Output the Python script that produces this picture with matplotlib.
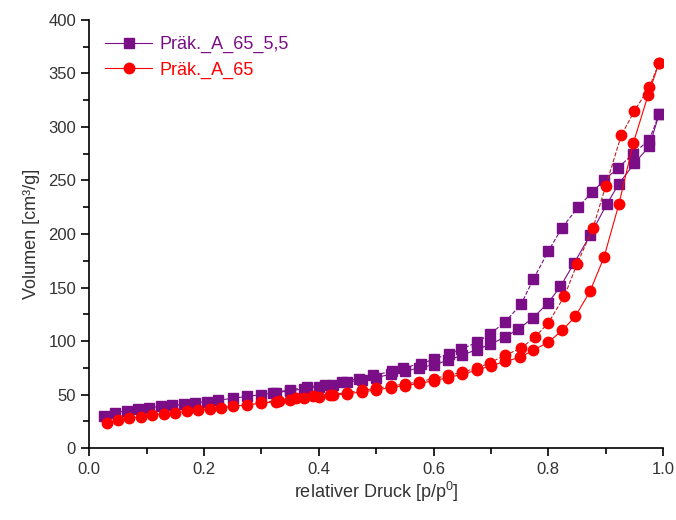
import numpy as np
import matplotlib
matplotlib.use("Agg")
import matplotlib.pyplot as plt
from matplotlib.ticker import MultipleLocator

plt.rcParams['font.family'] = ['Liberation Sans', 'DejaVu Sans']

# Präk._A_65_5,5 (lila) - Adsorption
p_lila_ads = [0.025, 0.045, 0.065, 0.085, 0.105, 0.125, 0.145, 0.165, 0.185, 0.205,
              0.225, 0.25, 0.275, 0.30, 0.325, 0.35, 0.375, 0.40, 0.425, 0.45,
              0.475, 0.50, 0.525, 0.55, 0.575, 0.60, 0.625, 0.65, 0.675, 0.699,
              0.725, 0.747, 0.774, 0.80, 0.821, 0.845, 0.873, 0.902, 0.923, 0.95,
              0.976, 0.993]
v_lila_ads = [30, 33, 35, 36.5, 38, 39, 40, 41, 42.5, 43.5,
              45, 46.5, 48.5, 50, 52, 53.5, 55.5, 57.5, 59.5, 61.5,
              64, 66, 69, 72, 75, 78, 82, 87, 92, 97,
              104, 111, 122, 136, 151, 173, 199, 228, 247, 266,
              282, 312]
# Desorption
p_lila_des = [0.993, 0.976, 0.948, 0.922, 0.897, 0.876, 0.852, 0.824, 0.80, 0.774,
              0.753, 0.725, 0.699, 0.676, 0.648, 0.626, 0.60, 0.578, 0.547, 0.528,
              0.495, 0.47, 0.44, 0.41, 0.38, 0.35, 0.32]
v_lila_des = [312, 288, 275, 262, 250, 239, 225, 206, 184, 158,
              135, 118, 107, 99, 92.5, 88, 83, 79, 75, 72,
              68, 65, 62, 59.5, 57, 54.5, 52]

# Präk._A_65 (rot) - Adsorption
p_rot_ads = [0.031, 0.05, 0.07, 0.09, 0.11, 0.13, 0.15, 0.17, 0.19, 0.21,
             0.23, 0.25, 0.275, 0.30, 0.325, 0.35, 0.375, 0.40, 0.425, 0.45,
             0.475, 0.50, 0.525, 0.55, 0.575, 0.60, 0.625, 0.65, 0.676, 0.70,
             0.725, 0.751, 0.774, 0.80, 0.824, 0.847, 0.873, 0.897, 0.923, 0.948,
             0.974, 0.993]
v_rot_ads = [24, 26, 28, 29.5, 31, 32, 33, 34.5, 35.5, 37,
             38, 39, 40.5, 42, 43.5, 45, 46.5, 48, 49.5, 51,
             52.5, 54.5, 56.5, 58.5, 60.5, 63, 66, 69, 73, 77,
             81, 85, 91.6, 99, 110, 123, 147, 178.5, 228, 285,
             330, 360]
# Desorption
p_rot_des = [0.993, 0.976, 0.95, 0.927, 0.90, 0.878, 0.85, 0.828, 0.80, 0.777,
             0.753, 0.725, 0.699, 0.676, 0.65, 0.625, 0.60, 0.575, 0.55, 0.525,
             0.50, 0.475, 0.45, 0.42, 0.39, 0.36, 0.33, 0.30]
v_rot_des = [360, 337, 315, 292, 245, 206, 172, 142, 117, 104,
             93.5, 87, 80, 75, 71, 68, 65, 62, 60, 58,
             56, 54, 52, 50, 48.5, 46.5, 44.5, 43]

lila = '#7a0e86'
rot = '#ff0000'

fig = plt.figure(figsize=(6.76, 5.2), dpi=100)
ax = fig.add_axes([0.132, 0.138, 0.849, 0.824])

ax.plot(p_lila_ads, v_lila_ads, color=lila, lw=0.8, marker='s', ms=6.5,
        mec=lila, mfc=lila, label='Präk._A_65_5,5')
ax.plot(p_lila_des, v_lila_des, color=lila, lw=0.8, ls='--', marker='s', ms=6.5,
        mec=lila, mfc=lila)
ax.plot(p_rot_ads, v_rot_ads, color=rot, lw=0.8, marker='o', ms=7.5,
        mec=rot, mfc=rot, label='Präk._A_65')
ax.plot(p_rot_des, v_rot_des, color='#c02020', lw=0.8, ls='--', marker='o', ms=7.5,
        mec=rot, mfc=rot)

ax.set_xlim(0, 1.0)
ax.set_ylim(0, 400)
ax.xaxis.set_major_locator(MultipleLocator(0.2))
ax.xaxis.set_minor_locator(MultipleLocator(0.1))
ax.yaxis.set_major_locator(MultipleLocator(50))
ax.yaxis.set_minor_locator(MultipleLocator(25))
ax.xaxis.set_major_formatter(plt.FuncFormatter(lambda v, _: f"{v:.1f}"))

ax.spines['top'].set_visible(False)
ax.spines['right'].set_visible(False)
ax.spines['left'].set_linewidth(1.2)
ax.spines['bottom'].set_linewidth(1.2)
ax.tick_params(which='major', direction='out', length=6, width=1.2, labelsize=12,
               colors='black', labelcolor='#333333')
ax.tick_params(which='minor', direction='out', length=4, width=1.2)
ax.tick_params(axis='x', pad=4)

ax.set_xlabel('relativer Druck [p/p$^\\mathregular{0}$]', fontsize=13, labelpad=2,
              color='#333333')
ax.set_ylabel('Volumen [cm³/g]', fontsize=13, labelpad=6, color='#333333')

leg = ax.legend(loc='upper left', bbox_to_anchor=(0.0, 1.0), frameon=False,
                fontsize=13, handlelength=2.6, handletextpad=0.4, labelspacing=0.45)
for txt, c in zip(leg.get_texts(), [lila, rot]):
    txt.set_color(c)

fig.savefig('out.png', dpi=100)
